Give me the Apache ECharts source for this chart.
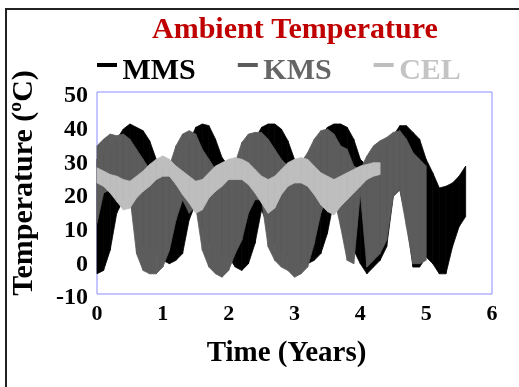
<!DOCTYPE html>
<html>
<head>
<meta charset="utf-8">
<title>Ambient Temperature</title>
<script src="https://cdn.jsdelivr.net/npm/echarts@6/dist/echarts.min.js"></script>
<style>
  html, body { margin: 0; padding: 0; background: #fff; }
  #frame { position: absolute; left: 5px; top: 8px; width: 600px; height: 500px; border: 2px solid #222; }
  #chart { position: absolute; left: 0; top: 0; width: 519px; height: 387px; }
</style>
</head>
<body>
<div id="frame"></div>
<div id="chart"></div>
<script>
// time step of every array below is 0.1 year, starting at 0
const STEP = 0.1;

// MMS (black) daily envelope, 0 .. 5.6 years
const mmsLow = [-4, -3, 3, 14, 18, 19, 8, 5, 3, 2,
  0, -1, 0, 2, 12, 17, 10, 5, 3, 2,
  1, -2, -3, -1, 5, 15, 10, 5, 3, 1,
  0, -1, -1, 0, 2, 8, 18, 15, 8, 3,
  -1, -4, -2, 0, 4, 19, 21, 12, -2, -2,
  1, -1, -4, -4, 4, 10, 13];
const mmsHigh = [30, 32, 34, 36, 39, 40.5, 39.5, 38.5, 35.5, 30,
  28, 27, 28, 30, 35, 39.5, 40.5, 40, 36, 30.5,
  28, 27, 28, 30, 36, 39.5, 40.5, 40.5, 39, 35.5,
  30, 28, 30, 33, 37, 39.5, 40.5, 40.5, 39.5, 36,
  30, 28, 29, 31, 34, 37, 40, 40, 38, 36,
  30, 26, 21.5, 22, 23, 25, 28];

// KMS (dark grey) daily envelope, 0 .. 5.0 years
const kmsLow = [11, 20, 21, 21, 21, 19, 2, -3, -4, -4,
  -2, 3, 12, 18, 14, 16, 3, -2, -4, -5,
  -3, 2, 6, 14, 18, 18, 4, 0, -2, -3,
  -5, -4, -2, 5, 14, 19, 19, 10, 0, -1,
  20, -2, 0, 2, 6, 19, 21, 10, -1, -1,
  0];
const kmsHigh = [34, 36, 37.5, 37, 37.5, 36, 33, 30, 27, 27,
  28, 28, 34, 37.5, 38.5, 37.5, 33, 30, 27, 27,
  28, 29, 35, 37.5, 38, 38, 36, 33, 30, 28,
  28, 29, 32, 36, 38.5, 39, 37.5, 34, 33, 28,
  27, 31, 34, 35.5, 36.5, 38, 38.5, 36, 32, 30,
  28];

// CEL (light grey) daily envelope, 0 .. 4.3 years
const celLow = [23, 22, 20, 17.5, 15, 15.5, 18.5, 20.5, 22, 24,
  25, 25, 22.5, 19.5, 17, 14, 15, 18.5, 20.5, 22,
  24, 24, 24, 22.5, 20, 17, 14, 15.5, 19.5, 22,
  23, 23, 22, 19.5, 16.5, 14.5, 13.5, 16, 18, 20,
  22, 24, 25, 25.5];
const celHigh = [27.5, 26.5, 25.5, 25, 24, 23.5, 25, 26.5, 28.5, 30,
  31, 30, 28, 26.5, 25, 23.5, 24, 26, 28, 29,
  30, 30.5, 30, 29, 27, 25, 24, 25, 27, 29,
  30, 30.5, 30, 28, 26, 25, 24, 25, 26, 27,
  28, 28.5, 29, 29];

const xTicks = [0, 1, 2, 3, 4, 5, 6];
const yTicks = [-10, 0, 10, 20, 30, 40, 50];

const FONT = "'Liberation Serif', 'Times New Roman', serif";
const colors = { MMS: '#000000', KMS: '#5c5c5c', CEL: '#bebebe' };

// one item per strip between two samples: [t0, lo0, hi0, t1, lo1, hi1]
function strips(lo, hi) {
  const out = [];
  for (let i = 0; i < lo.length - 1; i++) {
    const t0 = +(i * STEP).toFixed(2), t1 = +((i + 1) * STEP).toFixed(2);
    out.push([t0, lo[i], hi[i], t1, lo[i + 1], hi[i + 1]]);
  }
  return out;
}

function band(name, lo, hi) {
  const color = colors[name];
  return {
    name, type: 'custom', color,
    encode: { x: [0, 3], y: [1, 2, 4, 5] },
    data: strips(lo, hi),
    renderItem(params, api) {
      const pts = [
        api.coord([api.value(0), api.value(1)]),
        api.coord([api.value(0), api.value(2)]),
        api.coord([api.value(3), api.value(5)]),
        api.coord([api.value(3), api.value(4)]),
      ];
      return {
        type: 'polygon',
        shape: { points: pts },
        style: { fill: color, stroke: color, lineWidth: 0.8 },
      };
    },
  };
}

const chart = echarts.init(document.getElementById('chart'));

chart.setOption({
  animation: false,
  title: {
    text: 'Ambient Temperature',
    left: 152, top: 15, padding: 0,
    textStyle: { color: '#c00000', fontSize: 30, fontWeight: 'bold', fontFamily: FONT },
  },
  legend: {
    data: [
      { name: 'MMS', textStyle: { color: '#000000' } },
      { name: 'KMS', textStyle: { color: '#666666' } },
      { name: 'CEL', textStyle: { color: '#c4c4c4' } },
    ],
    left: 97, top: 56, padding: 0,
    icon: 'path://M0,0H20V4H0Z M0,16H0.01V16.01H0Z',
    itemWidth: 21, itemHeight: 16, itemGap: 42,
    textStyle: { fontSize: 30, fontWeight: 'bold', fontFamily: FONT },
  },
  grid: {
    left: 97, right: 27, top: 92, bottom: 93,
    show: true, borderColor: '#8c8cff', borderWidth: 1,
  },
  xAxis: {
    type: 'value',
    min: xTicks[0], max: xTicks[xTicks.length - 1], interval: 1,
    name: 'Time (Years)', nameLocation: 'middle', nameGap: 45,
    nameTextStyle: { fontSize: 29, fontWeight: 'bold', fontFamily: FONT, color: '#000', padding: [0, 16, 0, 0] },
    axisLine: { show: false }, axisTick: { show: false }, splitLine: { show: false },
    axisLabel: { margin: 9, fontSize: 22, fontWeight: 'bold', fontFamily: FONT, color: '#000' },
  },
  yAxis: {
    type: 'value',
    min: yTicks[0], max: yTicks[yTicks.length - 1], interval: 10,
    name: 'Temperature (ºC)', nameLocation: 'middle', nameGap: 58, nameRotate: 90,
    nameTextStyle: { fontSize: 30, fontWeight: 'bold', fontFamily: FONT, color: '#000', padding: [0, 0, 0, 20] },
    axisLine: { show: false }, axisTick: { show: false }, splitLine: { show: false },
    axisLabel: {
      margin: 9, fontSize: 24, fontWeight: 'bold', fontFamily: FONT, color: '#000',
      verticalAlign: 'top', lineHeight: 8,
    },
  },
  series: [
    band('MMS', mmsLow, mmsHigh),
    band('KMS', kmsLow, kmsHigh),
    band('CEL', celLow, celHigh),
  ],
});
</script>
</body>
</html>
